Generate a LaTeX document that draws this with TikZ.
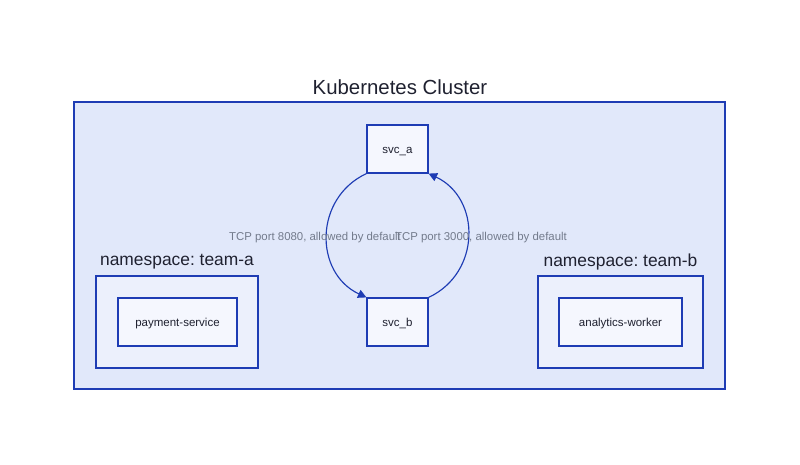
\documentclass[tikz,border=0pt]{standalone}
\usepackage{fontspec}
\setmainfont{Liberation Sans}
\usetikzlibrary{arrows.meta}
\frenchspacing
\definecolor{k8sline}{HTML}{1E3CB4}
\definecolor{clusterfill}{HTML}{E1E8FA}
\definecolor{nsfill}{HTML}{ECF0FC}
\definecolor{svcfill}{HTML}{F5F7FE}
\definecolor{inktext}{HTML}{1F2130}
\definecolor{edgetext}{HTML}{737B8C}
\begin{document}
\begin{tikzpicture}[
    x=1pt, y=1pt,
    frame/.style={draw=k8sline, line width=1.15pt, inner sep=0pt},
    svc/.style={frame, fill=svcfill, minimum height=48pt, text=inktext, text height=10pt, text depth=1pt, font=\fontsize{11.5}{13}\selectfont},
    title/.style={text=inktext, inner sep=0pt},
    flow/.style={draw=k8sline, line width=1.15pt, -{Triangle[length=8.5pt,width=8.5pt]}},
    lbl/.style={text=edgetext, font=\fontsize{11.4}{13}\selectfont, inner sep=0pt}
]
    \useasboundingbox (0,0) rectangle (800,464);

    % cluster
    \node[frame, fill=clusterfill, minimum width=651pt, minimum height=287pt] (cluster) at (399.5,218.5) {};
    \node[title, font=\fontsize{20.4}{24}\selectfont] (clustertitle) at (400,377) {Kubernetes Cluster};

    % namespaces
    \node[frame, fill=nsfill, minimum width=162pt, minimum height=92pt] (nsa) at (177,142) {};
    \node[title, font=\fontsize{17.4}{20}\selectfont] (nsatitle) at (177,202) {namespace: team-a};
    \node[frame, fill=nsfill, minimum width=165pt, minimum height=92pt] (nsb) at (620.5,142) {};
    \node[title, font=\fontsize{17.4}{20}\selectfont] (nsbtitle) at (620.5,202) {namespace: team-b};

    % workloads
    \node[svc, minimum width=119pt] (payment) at (177.5,142) {payment-service};
    \node[svc, minimum width=123pt] (analytics) at (620.5,142) {analytics-worker};

    % services
    \node[svc, minimum width=61pt] (svca) at (397.5,315) {svc\_a};
    \node[svc, minimum width=61pt] (svcb) at (397.5,142) {svc\_b};

    % traffic
    \draw[flow] (svca.south west) to[out=205, in=155, looseness=1.2]
        node[lbl, xshift=-12pt, yshift=-2pt] {TCP port 8080, allowed by default} (svcb.north west);
    \draw[flow] (svcb.north east) to[out=25, in=-25, looseness=1.2]
        node[lbl, xshift=13pt, yshift=-2pt] {TCP port 3000, allowed by default} (svca.south east);
\end{tikzpicture}
\end{document}
